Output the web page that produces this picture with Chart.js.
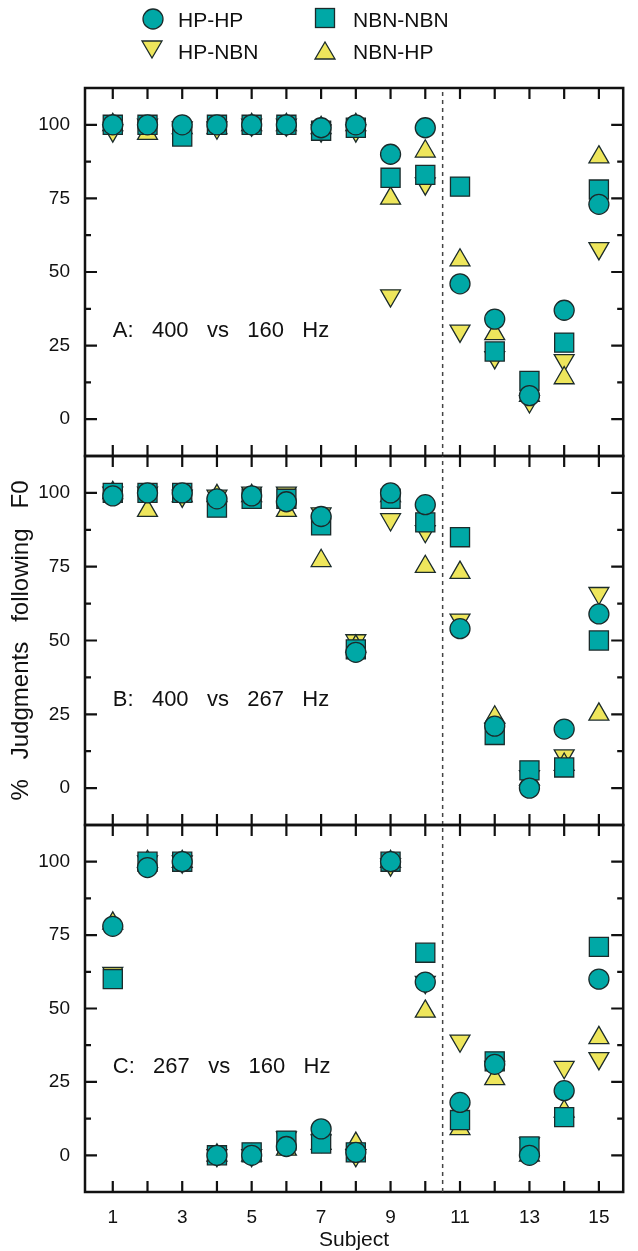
<!DOCTYPE html>
<html><head><meta charset="utf-8">
<script src="https://cdn.jsdelivr.net/npm/chart.js@4.4.1/dist/chart.umd.min.js"></script>
<style>
html,body{margin:0;padding:0;background:#fff;}
#wrap{position:relative;width:638px;height:1251px;overflow:hidden;font-family:"Liberation Sans",Arial,sans-serif;}
canvas.p{position:absolute;left:0;top:0;}
.leg{position:absolute;font-size:21px;color:#111;line-height:1;white-space:nowrap;}
.mk{position:absolute;}
</style></head><body>
<div id="wrap">
<canvas id="cA" class="p" width="638" height="1251"></canvas>
<canvas id="cB" class="p" width="638" height="1251"></canvas>
<canvas id="cC" class="p" width="638" height="1251"></canvas>
<svg class="mk" style="left:141px;top:7px" width="24" height="24"><circle cx="12" cy="12" r="10" fill="#00A8A6" stroke="#1b2b2b" stroke-width="1.3"/></svg>
<div class="leg" style="left:178px;top:9px">HP-HP</div>
<svg class="mk" style="left:140px;top:38px" width="24" height="24"><polygon points="2,3 22,3 12,20" fill="#EEE65C" stroke="#1b2b2b" stroke-width="1.3"/></svg>
<div class="leg" style="left:178px;top:41px">HP-NBN</div>
<svg class="mk" style="left:313px;top:6px" width="24" height="24"><rect x="2.5" y="2.5" width="19" height="19" fill="#00A8A6" stroke="#1b2b2b" stroke-width="1.3"/></svg>
<div class="leg" style="left:353px;top:9px">NBN-NBN</div>
<svg class="mk" style="left:313px;top:38px" width="24" height="24"><polygon points="2,21 22,21 12,4" fill="#EEE65C" stroke="#1b2b2b" stroke-width="1.3"/></svg>
<div class="leg" style="left:353px;top:41px">NBN-HP</div>
</div>
<script>
// ---------- data ----------
const subjects = [1,2,3,4,5,6,7,8,9,10,11,12,13,14,15];
const seriesNames = ['HP-HP','NBN-NBN','NBN-HP','HP-NBN'];
const panelLabels = ['A:   400   vs   160   Hz','B:   400   vs   267   Hz','C:   267   vs   160   Hz'];
const xTickLabels = [1,3,5,7,9,11,13,15];
const yTickLabels = [0,25,50,75,100];
const dividerAt = 10.5;

// Panel A: 400 vs 160 Hz
const A_HPHP   = [100,100,100,100,100,100,99,100,90,99,46,34,8,37,73];
const A_NBNNBN = [100,100,96,100,100,100,98,99,82,83,79,23,13,26,78];
const A_NBNHP  = [100,97,99,99,100,100,99,100,75,91,54,29,8,14,89];
const A_HPNBN  = [98,100,99,99,100,100,98,98,42,80,30,21,6,20,58];
// Panel B: 400 vs 267 Hz
const B_HPHP   = [99,100,100,98,99,97,92,46,100,96,54,21,0,20,59];
const B_NBNNBN = [100,100,100,95,98,98,89,47,98,90,85,18,6,7,50];
const B_NBNHP  = [100,94,99,99,99,94,77,48,99,75,73,24,3,8,25];
const B_HPNBN  = [100,100,99,99,100,100,93,50,91,87,57,20,4,11,66];
// Panel C: 267 vs 160 Hz
const C_HPHP   = [78,98,100,0,0,3,9,1,100,59,18,31,0,22,60];
const C_NBNNBN = [60,100,100,0,1,5,4,1,100,69,12,32,3,13,71];
const C_NBNHP  = [79,100,100,0,0,2,4,4,100,49,9,26,0,15,40];
const C_HPNBN  = [62,100,100,0,0,6,5,0,99,59,39,30,4,30,33];

// ---------- style ----------
const TEAL = '#00A8A6', YELLOW = '#EEE65C', EDGE = '#1b2b2b', INK = '#111';
const FONT = '"Liberation Sans", Arial, sans-serif';

const framePlugin = {
  id: 'frame',
  beforeDatasetsDraw(chart, args, opts) {
    const {ctx, chartArea: {left, right, top, bottom}, scales: {x, y}} = chart;
    ctx.save();
    ctx.strokeStyle = INK;
    ctx.lineWidth = 2.5;
    ctx.strokeRect(left, top, right - left, bottom - top);
    ctx.lineWidth = 2.2;
    ctx.beginPath();
    subjects.forEach(v => {
      const px = x.getPixelForValue(v);
      ctx.moveTo(px, top); ctx.lineTo(px, top + 11);
      ctx.moveTo(px, bottom); ctx.lineTo(px, bottom - 11);
    });
    for (let v = 0; v <= 100; v += 12.5) {
      const py = y.getPixelForValue(v);
      const len = (v % 25 === 0) ? 12 : 6;
      ctx.moveTo(left, py); ctx.lineTo(left + len, py);
      ctx.moveTo(right, py); ctx.lineTo(right - len, py);
    }
    ctx.stroke();
    ctx.font = '22px ' + FONT;
    ctx.fillStyle = INK;
    ctx.textAlign = 'left';
    ctx.textBaseline = 'middle';
    ctx.fillText(opts.label, x.getPixelForValue(1), y.getPixelForValue(30));
    ctx.restore();
  }
};

const panelTop = [88, 456, 825];
const panelBottom = [456, 825, 1192];

function ds(label, arr, style, color, rot, r) {
  return {
    label, data: subjects.map((s, i) => ({x: s, y: arr[i]})),
    pointStyle: style, pointRotation: rot, pointRadius: r,
    backgroundColor: color, borderColor: EDGE, borderWidth: 1.3,
    showLine: false
  };
}

function makePanel(id, idx, hphp, nbnnbn, nbnhp, hpnbn) {
  const isBottom = idx === 2;
  return new Chart(document.getElementById(id), {
    type: 'scatter',
    data: {
      datasets: [
        ds(seriesNames[0], hphp, 'circle', TEAL, 0, 10),
        ds(seriesNames[1], nbnnbn, 'rect', TEAL, 0, 13.5),
        ds(seriesNames[2], nbnhp, 'triangle', YELLOW, 0, 11.5),
        ds(seriesNames[3], hpnbn, 'triangle', YELLOW, 180, 11.5),
        {
          label: 'divider', data: [{x: dividerAt, y: -12.5}, {x: dividerAt, y: 112.5}],
          showLine: true, pointRadius: 0, borderColor: '#444', borderWidth: 1.5,
          borderDash: [4, 4], backgroundColor: 'transparent'
        }
      ]
    },
    options: {
      responsive: false, animation: false, events: [],
      layout: {padding: {top: panelTop[idx], bottom: isBottom ? 0 : 1251 - panelBottom[idx], left: 0, right: 1}},
      plugins: {legend: {display: false}, tooltip: {enabled: false}, frame: {label: panelLabels[idx]}},
      scales: {
        x: {
          type: 'linear', min: 0.2, max: 15.7, display: isBottom,
          grid: {display: false}, border: {display: false},
          afterBuildTicks: s => { s.ticks = xTickLabels.map(v => ({value: v})); },
          ticks: {font: {family: FONT, size: 19}, color: INK, padding: 6, maxRotation: 0, autoSkip: false},
          title: {display: true, text: 'Subject', color: INK, font: {family: FONT, size: 21, lineHeight: 1}, padding: {top: 0, bottom: 0}},
          afterFit: s => { s.height = isBottom ? 1251 - panelBottom[2] : 0; }
        },
        y: {
          type: 'linear', min: -12.5, max: 112.5,
          grid: {display: false}, border: {display: false},
          afterBuildTicks: s => { s.ticks = yTickLabels.map(v => ({value: v})); },
          ticks: {font: {family: FONT, size: 19}, color: INK, padding: 7},
          title: {display: idx === 1, text: '%   Judgments   following   F0', color: INK,
                  font: {family: FONT, size: 24, lineHeight: 1.2}, padding: {top: 7, bottom: 0}},
          afterFit: s => { s.width = 85; }
        }
      }
    },
    plugins: [framePlugin]
  });
}

makePanel('cA', 0, A_HPHP, A_NBNNBN, A_NBNHP, A_HPNBN);
makePanel('cB', 1, B_HPHP, B_NBNNBN, B_NBNHP, B_HPNBN);
makePanel('cC', 2, C_HPHP, C_NBNNBN, C_NBNHP, C_HPNBN);
</script>
</body></html>
